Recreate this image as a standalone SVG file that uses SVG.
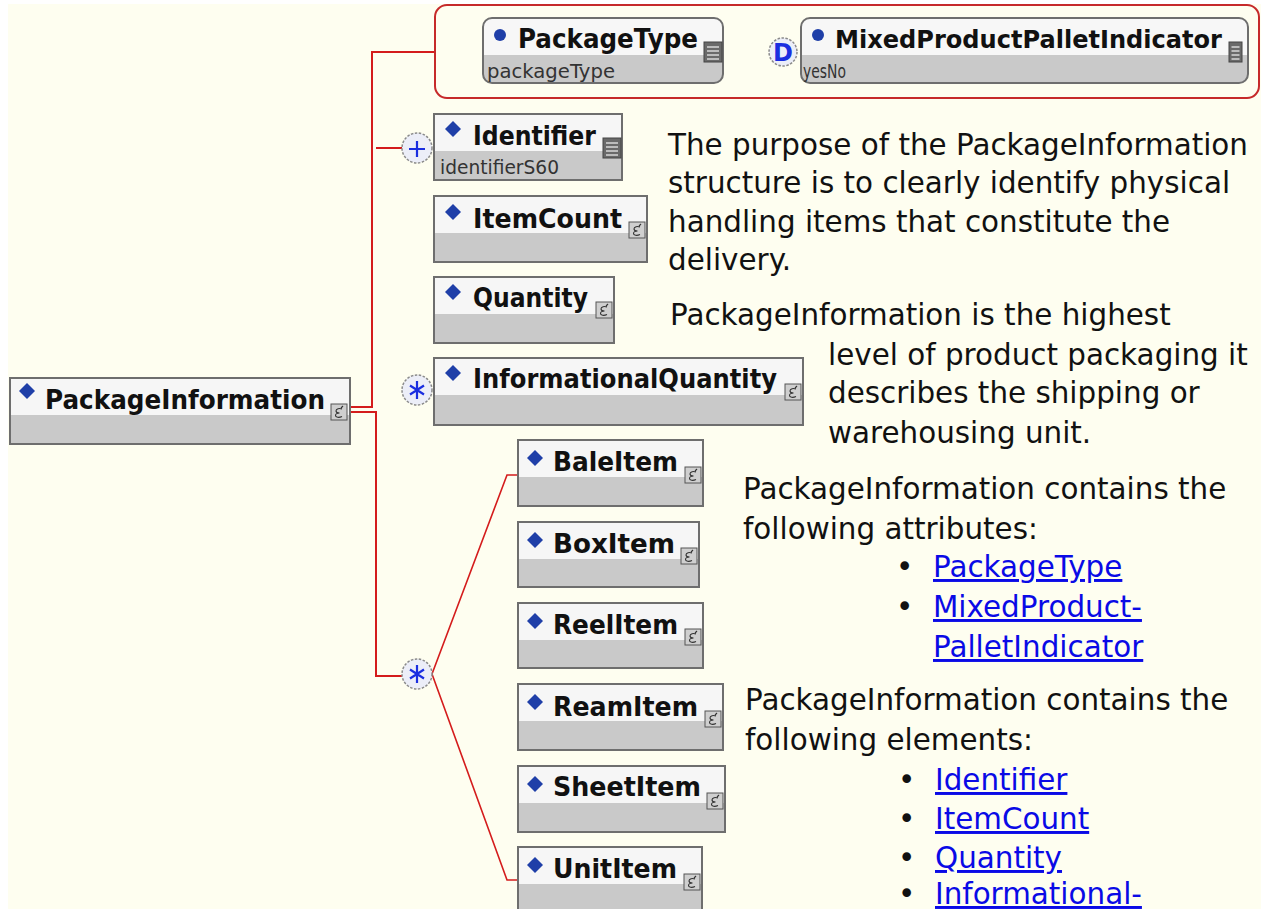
<svg xmlns="http://www.w3.org/2000/svg" width="1261" height="909" viewBox="0 0 1261 909">
<style>
.box{fill:#c9c9c9;stroke:#6e6e6e;stroke-width:2}
.hdr{fill:#f6f6f6}
.dia{fill:#1f3fa8}
.lbl{font-family:"DejaVu Sans",Verdana,sans-serif;font-weight:bold;font-size:27px;fill:#111}
.sub{font-family:"DejaVu Sans",Tahoma,sans-serif;font-size:19px;fill:#333}
.ci{fill:#cfcfcf;stroke:#555;stroke-width:1}
.cg{fill:none;stroke:#333;stroke-width:1.1}
.li{fill:#6a6a6a;stroke:#444;stroke-width:1}
.ll{stroke:#d8d8d8;stroke-width:1.5}
.con{fill:none;stroke:#d41c1c;stroke-width:2}
.thin{fill:none;stroke:#d41c1c;stroke-width:1.6}
.cmp{fill:#eceef8;stroke:#8a8a8a;stroke-width:1.5;stroke-dasharray:2.5 1.5}
.sym{stroke:#1a2ee0;stroke-width:2.2;fill:none}
.txt{font-family:"DejaVu Sans",Verdana,sans-serif;font-size:29.4px;fill:#111}
.lnk{font-family:"DejaVu Sans",Verdana,sans-serif;font-size:29.4px;fill:#0a0ae6;text-decoration:underline}
</style>
<defs>
<g id="cicon">
<rect class="ci" x="0" y="0" width="16" height="16"/>
<path class="cg" d="M11,5 C8.5,4 5,4.5 5,7 C5,8.5 6.5,9 8.5,9 M8.5,9 C6,9 4.5,9.8 4.5,11.5 C4.5,13.5 8,14 11,12.5 M10,4 L12,2"/>
</g>
<g id="licon">
<rect class="li" x="0" y="0" width="18" height="20"/>
<line class="ll" x1="3" y1="5" x2="15" y2="5"/>
<line class="ll" x1="3" y1="9" x2="15" y2="9"/>
<line class="ll" x1="3" y1="13" x2="15" y2="13"/>
<line class="ll" x1="3" y1="17" x2="15" y2="17"/>
</g>
<g id="licon2">
<rect class="li" x="0" y="0" width="13" height="20"/>
<line class="ll" x1="2.5" y1="5" x2="10.5" y2="5"/>
<line class="ll" x1="2.5" y1="9" x2="10.5" y2="9"/>
<line class="ll" x1="2.5" y1="13" x2="10.5" y2="13"/>
<line class="ll" x1="2.5" y1="17" x2="10.5" y2="17"/>
</g>
</defs>
<rect x="0" y="0" width="1261" height="909" fill="#ffffff"/>
<rect x="8" y="4" width="1253" height="905" fill="#fefef0"/>

<g id="connectors">
<path class="con" d="M350,407 H372 V52 H435"/>
<path class="con" d="M350,412 H376 V676 H402 M376,148 H402"/>
<path class="thin" d="M432,674 L507,475 H518 M432,674 L507,880 H518"/>
</g>

<g id="attributes">
<rect x="435" y="5" width="824" height="93" rx="12" fill="none" stroke="#c62a2a" stroke-width="2"/>
</g>

<g id="n-PackageType">
<rect x="483" y="18" width="240" height="65" rx="9" fill="#f7f7f7"/>
<path d="M483,55 H723 V74 Q723,83 714,83 H492 Q483,83 483,74 Z" fill="#c9c9c9"/>
<rect x="483" y="18" width="240" height="65" rx="9" fill="none" stroke="#6e6e6e" stroke-width="2"/>
<circle cx="500" cy="35" r="6" fill="#1f3fa8"/>
<text class="lbl" x="518" y="48" textLength="180" lengthAdjust="spacingAndGlyphs">PackageType</text>
<text class="sub" x="487" y="78" textLength="128" lengthAdjust="spacingAndGlyphs">packageType</text>
<use href="#licon" x="704" y="42"/>
</g>

<g id="c-D">
<circle class="cmp" cx="783" cy="52" r="14"/>
<text x="783" y="61" text-anchor="middle" font-family="DejaVu Sans,Verdana,sans-serif" font-weight="bold" font-size="24" fill="#1a2ee0">D</text>
</g>

<g id="n-MixedProductPalletIndicator">
<rect x="801" y="18" width="447" height="65" rx="9" fill="#f7f7f7"/>
<path d="M801,55 H1248 V74 Q1248,83 1239,83 H810 Q801,83 801,74 Z" fill="#c9c9c9"/>
<rect x="801" y="18" width="447" height="65" rx="9" fill="none" stroke="#6e6e6e" stroke-width="2"/>
<circle cx="818" cy="35" r="6" fill="#1f3fa8"/>
<text class="lbl" x="835" y="48" style="font-size:25px" textLength="387" lengthAdjust="spacingAndGlyphs">MixedProductPalletIndicator</text>
<text class="sub" x="803" y="78" textLength="43" lengthAdjust="spacingAndGlyphs">yesNo</text>
<use href="#licon2" x="1229" y="42"/>
</g>

<g id="n-PackageInformation">
<rect class="box" x="10" y="378" width="340" height="66"/>
<rect class="hdr" x="11" y="379" width="338" height="36"/>
<path class="dia" d="M27,383 l8,8 -8,8 -8,-8z"/>
<text class="lbl" x="45" y="409" textLength="280" lengthAdjust="spacingAndGlyphs">PackageInformation</text>
<use href="#cicon" x="331" y="404"/>
</g>

<g id="c-seq">
<circle class="cmp" cx="417" cy="148" r="15"/>
<path class="sym" d="M409,149 H425 M417,141 V157"/>
</g>

<g id="n-Identifier">
<rect class="box" x="434" y="114" width="188" height="66"/>
<rect class="hdr" x="435" y="115" width="186" height="36"/>
<path class="dia" d="M453,121 l8,8 -8,8 -8,-8z"/>
<text class="lbl" x="473" y="145" textLength="123" lengthAdjust="spacingAndGlyphs">Identifier</text>
<text class="sub" x="440" y="174" textLength="119" lengthAdjust="spacingAndGlyphs">identifierS60</text>
<use href="#licon" x="603" y="138"/>
</g>

<g id="n-ItemCount">
<rect class="box" x="434" y="196" width="213" height="66"/>
<rect class="hdr" x="435" y="197" width="211" height="36"/>
<path class="dia" d="M453,204 l8,8 -8,8 -8,-8z"/>
<text class="lbl" x="473" y="228" textLength="149" lengthAdjust="spacingAndGlyphs">ItemCount</text>
<use href="#cicon" x="629" y="222"/>
</g>

<g id="n-Quantity">
<rect class="box" x="434" y="277" width="180" height="66"/>
<rect class="hdr" x="435" y="278" width="178" height="36"/>
<path class="dia" d="M453,284 l8,8 -8,8 -8,-8z"/>
<text class="lbl" x="473" y="307" textLength="115" lengthAdjust="spacingAndGlyphs">Quantity</text>
<use href="#cicon" x="596" y="302"/>
</g>

<g id="c-rep">
<circle class="cmp" cx="417" cy="390" r="15"/>
<path class="sym" d="M417,381 V399 M410,385.5 L424,394.5 M424,385.5 L410,394.5"/>
</g>

<g id="n-InformationalQuantity">
<rect class="box" x="434" y="358" width="369" height="67"/>
<rect class="hdr" x="435" y="359" width="367" height="36"/>
<path class="dia" d="M453,365 l8,8 -8,8 -8,-8z"/>
<text class="lbl" x="473" y="388" textLength="304" lengthAdjust="spacingAndGlyphs">InformationalQuantity</text>
<use href="#cicon" x="785" y="384"/>
</g>

<g id="c-choice">
<circle class="cmp" cx="417" cy="674" r="15"/>
<path class="sym" d="M417,665 V683 M410,669.5 L424,678.5 M424,669.5 L410,678.5"/>
</g>

<g id="n-BaleItem">
<rect class="box" x="518" y="440" width="185" height="66"/>
<rect class="hdr" x="519" y="441" width="183" height="36"/>
<path class="dia" d="M535,450 l8,8 -8,8 -8,-8z"/>
<text class="lbl" x="553" y="471" textLength="125" lengthAdjust="spacingAndGlyphs">BaleItem</text>
<use href="#cicon" x="685" y="467"/>
</g>

<g id="n-BoxItem">
<rect class="box" x="518" y="522" width="181" height="65"/>
<rect class="hdr" x="519" y="523" width="179" height="36"/>
<path class="dia" d="M535,532 l8,8 -8,8 -8,-8z"/>
<text class="lbl" x="553" y="553" textLength="122" lengthAdjust="spacingAndGlyphs">BoxItem</text>
<use href="#cicon" x="681" y="548"/>
</g>

<g id="n-ReelItem">
<rect class="box" x="518" y="603" width="185" height="65"/>
<rect class="hdr" x="519" y="604" width="183" height="36"/>
<path class="dia" d="M535,613 l8,8 -8,8 -8,-8z"/>
<text class="lbl" x="553" y="634" textLength="125" lengthAdjust="spacingAndGlyphs">ReelItem</text>
<use href="#cicon" x="685" y="629"/>
</g>

<g id="n-ReamItem">
<rect class="box" x="518" y="684" width="205" height="66"/>
<rect class="hdr" x="519" y="685" width="203" height="36"/>
<path class="dia" d="M535,694 l8,8 -8,8 -8,-8z"/>
<text class="lbl" x="553" y="716" textLength="145" lengthAdjust="spacingAndGlyphs">ReamItem</text>
<use href="#cicon" x="705" y="711"/>
</g>

<g id="n-SheetItem">
<rect class="box" x="518" y="766" width="207" height="66"/>
<rect class="hdr" x="519" y="767" width="205" height="36"/>
<path class="dia" d="M535,776 l8,8 -8,8 -8,-8z"/>
<text class="lbl" x="553" y="796" textLength="148" lengthAdjust="spacingAndGlyphs">SheetItem</text>
<use href="#cicon" x="707" y="793"/>
</g>

<g id="n-UnitItem">
<rect class="box" x="518" y="847" width="184" height="72"/>
<rect class="hdr" x="519" y="848" width="182" height="36"/>
<path class="dia" d="M535,857 l8,8 -8,8 -8,-8z"/>
<text class="lbl" x="553" y="878" textLength="124" lengthAdjust="spacingAndGlyphs">UnitItem</text>
<use href="#cicon" x="684" y="874"/>
</g>

<g id="description">
<text class="txt" x="668" y="155">The purpose of the PackageInformation</text>
<text class="txt" x="668" y="193">structure is to clearly identify physical</text>
<text class="txt" x="668" y="232">handling items that constitute the</text>
<text class="txt" x="668" y="270">delivery.</text>
<text class="txt" x="670" y="325">PackageInformation is the highest</text>
<text class="txt" x="828" y="365">level of product packaging it</text>
<text class="txt" x="828" y="403">describes the shipping or</text>
<text class="txt" x="828" y="443">warehousing unit.</text>
<text class="txt" x="743" y="499">PackageInformation contains the</text>
<text class="txt" x="743" y="539">following attributes:</text>
<text class="txt" x="896" y="577">•</text>
<text class="lnk" x="933" y="577">PackageType</text>
<text class="txt" x="896" y="617">•</text>
<text class="lnk" x="933" y="617">MixedProduct-</text>
<text class="lnk" x="933" y="657">PalletIndicator</text>
<text class="txt" x="745" y="710">PackageInformation contains the</text>
<text class="txt" x="745" y="750">following elements:</text>
<text class="txt" x="898" y="790">•</text>
<text class="lnk" x="935" y="790">Identifier</text>
<text class="txt" x="898" y="829">•</text>
<text class="lnk" x="935" y="829">ItemCount</text>
<text class="txt" x="898" y="868">•</text>
<text class="lnk" x="935" y="868">Quantity</text>
<text class="txt" x="898" y="904">•</text>
<text class="lnk" x="935" y="904">Informational-</text>
</g>
</svg>
